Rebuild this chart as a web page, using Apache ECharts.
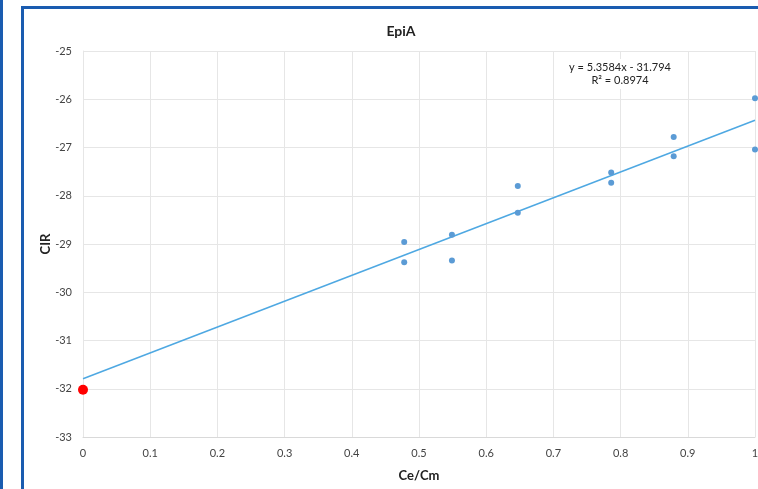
<!DOCTYPE html>
<html><head><meta charset="utf-8">
<script src="https://cdn.jsdelivr.net/npm/echarts@6/dist/echarts.min.js"></script>
<style>html,body{margin:0;padding:0;background:#fff;overflow:hidden}#c{width:758px;height:489px}</style>
</head><body><div id="c"></div>
<script>
const title = 'EpiA';
const xName = 'Ce/Cm';
const yName = 'CIR';
const ceCm = [0.478, 0.478, 0.549, 0.549, 0.647, 0.647, 0.786, 0.786, 0.879, 0.879, 1.0, 1.0];
const cir = [-28.96, -29.38, -28.81, -29.34, -27.80, -28.35, -27.52, -27.73, -26.78, -27.18, -25.98, -27.04];
const originX = [0];
const originY = [-32.02];
const slope = 5.3584;
const intercept = -31.794;
const rSquared = 0.8974;
const trendX = [0, 1];

const font = 'Lato, "Open Sans", sans-serif';
const chart = echarts.init(document.getElementById('c'));
chart.setOption({
  animation: false,
  backgroundColor: '#fff',
  title: {text: title, left: 396, top: 19, textAlign: 'center',
    textStyle: {fontFamily: font, fontSize: 14, fontWeight: 'bold', color: '#222'}},
  grid: {left: 83, right: 3, top: 51, bottom: 52, outerBoundsMode: 'none', containLabel: false},
  xAxis: {type: 'value', min: 0, max: 1, interval: 0.1,
    name: xName, nameLocation: 'middle', nameGap: 32,
    nameTextStyle: {fontFamily: font, fontSize: 13, fontWeight: 'bold', color: '#222'},
    axisLine: {show: true, lineStyle: {color: '#d9d9d9'}}, axisTick: {show: false},
    axisLabel: {fontFamily: font, fontSize: 11, color: '#444', margin: 11,
      formatter: v => String(Math.round(v*10)/10)},
    splitLine: {show: true, lineStyle: {color: '#e6e6e6'}}},
  yAxis: {type: 'value', min: -33, max: -25, interval: 1,
    name: yName, nameLocation: 'middle', nameGap: 31, nameRotate: 90, nameMoveOverlap: false,
    nameTextStyle: {fontFamily: font, fontSize: 13, fontWeight: 'bold', color: '#222'},
    axisLine: {show: true, lineStyle: {color: '#e6e6e6'}}, axisTick: {show: false},
    axisLabel: {fontFamily: font, fontSize: 11, color: '#444', margin: 11},
    splitLine: {show: true, lineStyle: {color: '#e6e6e6'}}},
  series: [
    {type: 'line', data: trendX.map(x => [x, slope*x + intercept]), symbol: 'none',
      lineStyle: {color: '#4ea8e2', width: 1.5}, silent: true, z: 2},
    {type: 'scatter', data: ceCm.map((x, i) => [x, cir[i]]), symbolSize: 6,
      itemStyle: {color: '#5b9bd5', opacity: 1}, z: 3},
    {type: 'scatter', data: originX.map((x, i) => [x, originY[i]]), symbolSize: 10,
      itemStyle: {color: '#ff0000', opacity: 1}, z: 4}
  ],
  graphic: [
    {type: 'rect', shape: {x: 0, y: 0, width: 3, height: 489}, style: {fill: '#1a5cb0'}},
    {type: 'rect', shape: {x: 22.5, y: 7.5, width: 760, height: 500},
      style: {fill: 'none', stroke: '#1a5cb0', lineWidth: 3}, z: 10},
    {type: 'text', x: 620, y: 59, z: 5, style: {
      text: 'y = ' + slope + 'x - ' + Math.abs(intercept) + '\nR² = ' + rSquared,
      align: 'center', verticalAlign: 'top', font: '11px ' + font, fill: '#222', lineHeight: 13,
      backgroundColor: '#fff', padding: [2, 4]}}
  ]
});
</script></body></html>
